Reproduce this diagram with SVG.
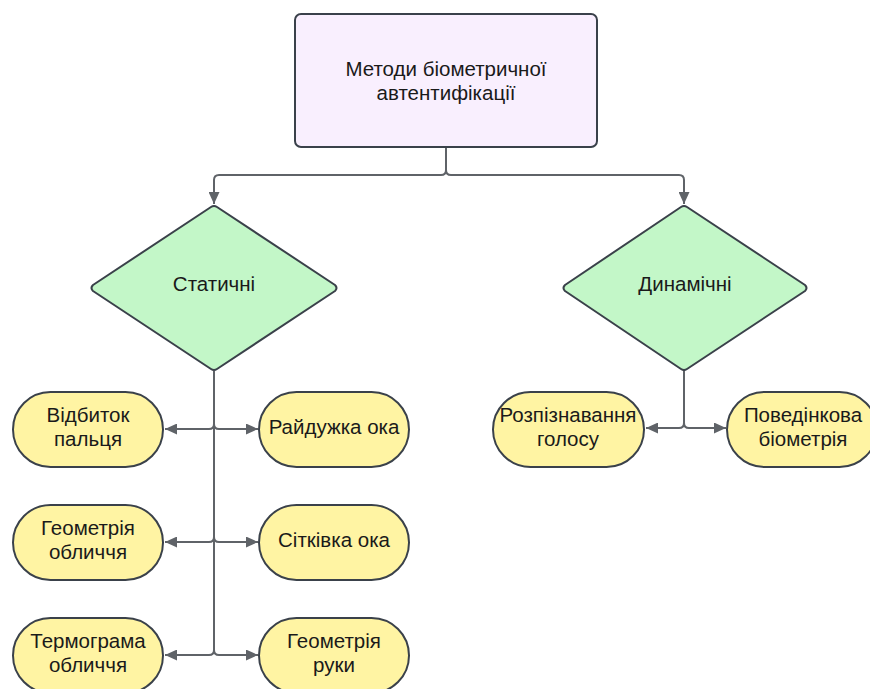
<svg xmlns="http://www.w3.org/2000/svg" width="870" height="689" viewBox="0 0 870 689">
<defs>
<marker id="arr" markerUnits="userSpaceOnUse" markerWidth="13" markerHeight="11" refX="12" refY="5.5" orient="auto">
<path d="M0,0 L12,5.5 L0,11 z" fill="#5f6368"/>
</marker>
<style>
.lbl{font-family:"Liberation Sans",Arial,sans-serif;font-size:20.5px;fill:#1a1a1a;text-anchor:middle}
.pill{fill:#fff4a3;stroke:#3a414a;stroke-width:2}
.dia{fill:#c3f7c8;stroke:#3a414a;stroke-width:2;stroke-linejoin:round}
.box{fill:#f9effe;stroke:#3a414a;stroke-width:2}
.con{fill:none;stroke:#5f6368;stroke-width:2;marker-end:url(#arr)}
</style>
</defs>
<rect width="870" height="689" fill="#ffffff"/>
<g id="connectors">
<path class="con" d="M446 147 V170 Q446 175 441 175 H219 Q214 175 214 180 V204"/>
<path class="con" d="M446 147 V170 Q446 175 451 175 H679 Q684 175 684 180 V204"/>
<path class="con" d="M214 371 V424 Q214 429 209 429 H165"/>
<path class="con" d="M214 371 V424 Q214 429 219 429 H258"/>
<path class="con" d="M214 371 V537 Q214 542 209 542 H165"/>
<path class="con" d="M214 371 V537 Q214 542 219 542 H258"/>
<path class="con" d="M214 371 V650 Q214 655 209 655 H165"/>
<path class="con" d="M214 371 V650 Q214 655 219 655 H258"/>
<path class="con" d="M684 370 V423 Q684 428 679 428 H646"/>
<path class="con" d="M684 370 V423 Q684 428 689 428 H726"/>
</g>
<g id="root">
<rect class="box" x="295" y="14" width="302" height="133" rx="6"/>
<text class="lbl" x="446" y="76">Методи біометричної</text>
<text class="lbl" x="446" y="100">автентифікації</text>
</g>
<g id="static">
<path class="dia" d="M211 207 Q214 205 217 207 L335 285 Q338 288 335 291 L217 369 Q214 371 211 369 L93 291 Q90 288 93 285 Z"/>
<text class="lbl" x="214" y="291">Статичні</text>
</g>
<g id="dynamic">
<path class="dia" d="M681 207 Q684 205 687 207 L805 285 Q808 288 805 291 L687 369 Q684 371 681 369 L565 291 Q562 288 565 285 Z"/>
<text class="lbl" x="685" y="291">Динамічні</text>
</g>
<g id="fingerprint">
<rect class="pill" x="13" y="392" width="150" height="75" rx="37.5"/>
<text class="lbl" x="88" y="422">Відбиток</text>
<text class="lbl" x="88" y="446">пальця</text>
</g>
<g id="iris">
<rect class="pill" x="259" y="392" width="150" height="75" rx="37.5"/>
<text class="lbl" x="334" y="434">Райдужка ока</text>
</g>
<g id="face">
<rect class="pill" x="13" y="505" width="150" height="75" rx="37.5"/>
<text class="lbl" x="88" y="535">Геометрія</text>
<text class="lbl" x="88" y="559">обличчя</text>
</g>
<g id="retina">
<rect class="pill" x="259" y="505" width="150" height="75" rx="37.5"/>
<text class="lbl" x="334" y="547">Сітківка ока</text>
</g>
<g id="thermogram">
<rect class="pill" x="13" y="618" width="150" height="75" rx="37.5"/>
<text class="lbl" x="88" y="648">Термограма</text>
<text class="lbl" x="88" y="672">обличчя</text>
</g>
<g id="hand">
<rect class="pill" x="259" y="618" width="150" height="75" rx="37.5"/>
<text class="lbl" x="334" y="648">Геометрія</text>
<text class="lbl" x="334" y="672">руки</text>
</g>
<g id="voice">
<rect class="pill" x="493" y="392" width="151" height="75" rx="37.5"/>
<text class="lbl" x="568" y="422">Розпізнавання</text>
<text class="lbl" x="568" y="446">голосу</text>
</g>
<g id="behavior">
<rect class="pill" x="727" y="392" width="150" height="75" rx="37.5"/>
<text class="lbl" x="803" y="422">Поведінкова</text>
<text class="lbl" x="803" y="446">біометрія</text>
</g>
</svg>
